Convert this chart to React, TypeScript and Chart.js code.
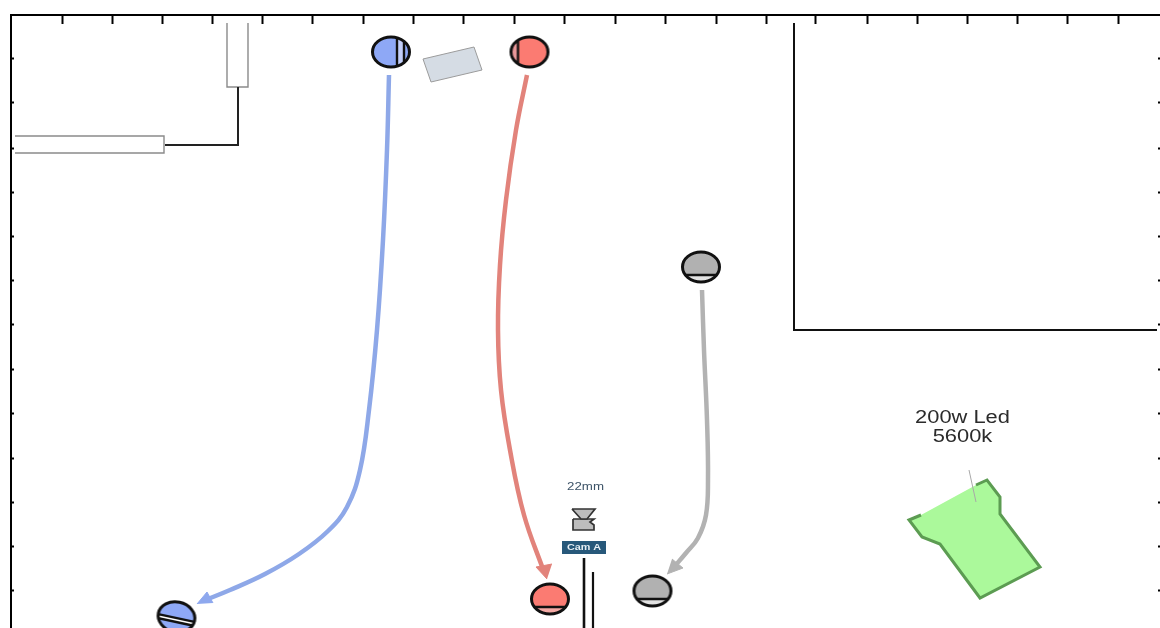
import React, { useEffect, useRef } from "react";
import { Chart, registerables } from "chart.js";

Chart.register(...registerables);

type P = [number, number];

// Frame ticks (stage grid marks)
const topTicks = [62, 112, 162, 212, 262, 312, 363, 413, 463, 514, 564, 615, 665, 716, 766, 815, 867, 917, 967, 1017, 1067, 1118];
const sideTicks = [59, 103, 148, 192, 236, 280, 324, 369, 413, 458, 502, 546, 590];

// Movement paths
const blueTrack: P[] = [[389, 75], [387, 150], [383, 240], [377, 330], [369, 410], [360, 470], [347, 507], [328, 531], [299, 554], [265, 574], [230, 590], [203, 601]];
const redTrack: P[] = [[527, 75], [516, 130], [506, 200], [500, 265], [498, 330], [501, 390], [510, 450], [524, 515], [544, 572]];
const grayTrack: P[] = [[702, 290], [704, 350], [707, 420], [708, 480], [706, 515], [698, 538], [686, 553], [674, 567]];

// Arrow heads
const blueHead: P[] = [[197, 604], [207, 592], [213, 603]];
const redHead: P[] = [[547, 579], [536, 567], [552, 564]];
const grayHead: P[] = [[667, 574], [683, 568], [672, 559]];

// Set pieces
const wallConnector: P[] = [[165, 145], [238, 145], [238, 87]];
const flatVertical: P[] = [[227, 23], [227, 87], [248, 87], [248, 23]];
const flatHorizontal: P[] = [[15, 136], [164, 136], [164, 153], [15, 153]];
const room: P[] = [[794, 23], [794, 330], [1157, 330]];
const table: P[] = [[423, 59], [474, 47], [482, 70], [431, 82], [423, 59]];
const lamp: P[] = [[921, 515], [909, 520], [922, 537], [940, 544], [980, 598], [1040, 567], [1000, 514], [1000, 497], [987, 480], [976, 485]];
const lampStem: P[] = [[969, 470], [976, 502]];
const dollyA: P[] = [[584, 558], [584, 628]];
const dollyB: P[] = [[593, 572], [593, 628]];
const camLens: P[] = [[572, 509], [595, 509], [587, 519], [581, 519], [572, 509]];
const camBody: P[] = [[573, 519], [594, 519], [590, 522], [594, 525], [594, 530], [573, 530], [573, 519]];
const camTag: P[] = [[562, 541], [606, 541], [606, 554], [562, 554], [562, 541]];

// Actors: centre, fill, lighter band colour, band kind
const actorCentres: P[] = [[391, 52], [529.5, 52], [176.5, 617], [550, 599], [701, 267], [652.5, 591]];
const actorFills = ["#8ea8f6", "#fb7b72", "#8ea8f6", "#fb7b72", "#b1b1b1", "#b1b1b1"];
const actorBands = ["#c3cffa", "#e9989a", "#ffffff", "#f4a9a5", "#e2e2e2", "#e2e2e2"];
const actorKinds = ["rightDouble", "left", "tilted", "bottom", "bottom", "bottom"];

// Text
const labelTexts = ["200w Led", "5600k", "22mm", "Cam A"];
const labelPoints: P[] = [[962.5, 418], [962.5, 437], [585.5, 487], [584, 548]];
const labelFonts = ["17.5px 'Liberation Sans'", "17.5px 'Liberation Sans'", "10px 'Liberation Sans'", "bold 9px 'Liberation Sans'"];
const labelColors = ["#2b2b2b", "#2b2b2b", "#3e5468", "#e8f0f5"];
const labelStretch = [1.25, 1.25, 1.33, 1.2];

const pts = (a: P[]) => a.map(([x, y]) => ({ x, y }));

function actorSprite(fill: string, band: string, kind: string) {
  const c = document.createElement("canvas");
  c.width = 48;
  c.height = 44;
  const g = c.getContext("2d")!;
  const cx = 24, cy = 22, rx = 18.5, ry = 15;
  g.translate(cx, cy);
  if (kind === "tilted") g.rotate((12 * Math.PI) / 180);
  g.beginPath();
  g.ellipse(0, 0, rx, ry, 0, 0, Math.PI * 2);
  g.fillStyle = fill;
  g.fill();
  g.save();
  g.clip();
  g.fillStyle = band;
  g.strokeStyle = "#111";
  g.lineWidth = 2.4;
  const vline = (x: number) => { g.beginPath(); g.moveTo(x, -ry); g.lineTo(x, ry); g.stroke(); };
  const hline = (y: number) => { g.beginPath(); g.moveTo(-rx, y); g.lineTo(rx, y); g.stroke(); };
  if (kind === "rightDouble") {
    g.fillRect(6, -ry, 7, ry * 2);
    vline(6);
    vline(13);
  } else if (kind === "left") {
    g.fillRect(-rx, -ry, 7, ry * 2);
    vline(-11.5);
  } else if (kind === "tilted") {
    g.fillRect(-rx, 1, rx * 2, 4);
    hline(1);
    hline(5);
  } else {
    g.fillRect(-rx, 8, rx * 2, 10);
    hline(8);
  }
  g.restore();
  g.beginPath();
  g.ellipse(0, 0, rx, ry, 0, 0, Math.PI * 2);
  g.strokeStyle = "#111";
  g.lineWidth = 3;
  g.stroke();
  return c;
}

const line = (data: P[], color: string, width: number, tension = 0) => ({
  type: "scatter" as const,
  data: pts(data),
  showLine: true,
  borderColor: color,
  borderWidth: width,
  tension,
  fill: false,
  pointRadius: 0,
  pointHoverRadius: 0,
  borderCapStyle: "butt" as const,
  borderJoinStyle: "miter" as const,
});

const shape = (data: P[], fill: string, stroke: string, width: number) => ({
  ...line(data, stroke, width),
  fill: "shape",
  backgroundColor: fill,
});

const labelsPlugin = {
  id: "stageLabels",
  afterDatasetsDraw(chart: any) {
    const { ctx, scales } = chart;
    labelTexts.forEach((text, i) => {
      const [x, y] = labelPoints[i];
      ctx.save();
      ctx.translate(scales.x.getPixelForValue(x), scales.y.getPixelForValue(y));
      ctx.scale(labelStretch[i], 1);
      ctx.font = labelFonts[i];
      ctx.fillStyle = labelColors[i];
      ctx.textAlign = "center";
      ctx.textBaseline = "middle";
      ctx.fillText(text, 0, 0);
      ctx.restore();
    });
  },
};

export default function App() {
  const ref = useRef<HTMLCanvasElement>(null);
  useEffect(() => {
    document.body.style.margin = "0";
    document.body.style.background = "#ffffff";
    const markers = actorCentres.map((c, i) => ({
      type: "scatter" as const,
      data: pts([c]),
      pointStyle: actorSprite(actorFills[i], actorBands[i], actorKinds[i]) as any,
      pointRadius: 20,
      pointHoverRadius: 20,
      showLine: false,
    }));
    const chart = new Chart(ref.current!, {
      type: "scatter",
      data: {
        datasets: [
          ...markers,
          shape(blueHead, "#8ea8ee", "#8ea8ee", 1),
          shape(redHead, "#e2837b", "#e2837b", 1),
          shape(grayHead, "#b2b2b2", "#b2b2b2", 1),
          line(blueTrack, "#8ea8e8", 4.5, 0.4),
          line(redTrack, "#e2837b", 4.5, 0.4),
          line(grayTrack, "#b2b2b2", 4.5, 0.4),
          line(lampStem, "#a8a8a8", 1),
          shape(lamp, "#abf99b", "#5c9c52", 3),
          line(wallConnector, "#222222", 2),
          line(flatVertical, "#8a8a8a", 1.4),
          line(flatHorizontal, "#8a8a8a", 1.4),
          line(room, "#111111", 2),
          shape(table, "#d5dce4", "#9b9b9b", 1),
          line(dollyA, "#111111", 2.6),
          line(dollyB, "#111111", 2.2),
          shape(camLens, "#bdbdbd", "#333333", 1.7),
          shape(camBody, "#bdbdbd", "#333333", 1.7),
          shape(camTag, "#27587a", "#27587a", 0),
        ] as any,
      },
      options: {
        animation: false,
        responsive: false,
        events: [],
        layout: { autoPadding: false, padding: { left: 11, top: 15, right: 0, bottom: 0 } },
        plugins: { legend: { display: false }, tooltip: { enabled: false } },
        scales: {
          x: {
            type: "linear",
            min: 11,
            max: 1160,
            position: { y: 15 } as any,
            afterBuildTicks: (s: any) => { s.ticks = topTicks.map((value) => ({ value })); },
            ticks: { display: false, autoSkip: false },
            grid: { drawOnChartArea: false, drawTicks: true, tickLength: 8, tickWidth: 2, tickColor: "#000" },
            border: { display: true, color: "#000", width: 2 },
          },
          y: {
            type: "linear",
            reverse: true,
            min: 15,
            max: 628,
            position: { x: 11 } as any,
            afterBuildTicks: (s: any) => { s.ticks = sideTicks.map((value) => ({ value })); },
            ticks: { display: false, autoSkip: false },
            grid: { drawOnChartArea: false, drawTicks: true, tickLength: -4, tickWidth: 2, tickColor: "#000" },
            border: { display: true, color: "#000", width: 2 },
          },
          yRight: {
            type: "linear",
            reverse: true,
            min: 15,
            max: 628,
            position: { x: 1160 } as any,
            afterBuildTicks: (s: any) => { s.ticks = sideTicks.map((value) => ({ value })); },
            ticks: { display: false, autoSkip: false },
            grid: { drawOnChartArea: false, drawTicks: true, tickLength: 2, tickWidth: 2, tickColor: "#000" },
            border: { display: false },
          },
        },
      } as any,
      plugins: [labelsPlugin],
    });
    return () => chart.destroy();
  }, []);
  return <canvas ref={ref} width={1160} height={628} style={{ display: "block", position: "fixed", left: 0, top: 0 }} />;
}
